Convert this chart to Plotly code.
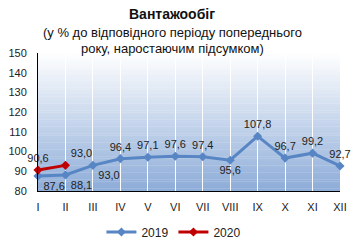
import plotly.graph_objects as go

months = ["I", "II", "III", "IV", "V", "VI", "VII", "VIII", "IX", "X", "XI", "XII"]
s2019 = [87.6, 88.1, 93.0, 96.4, 97.1, 97.6, 97.4, 95.6, 107.8, 96.7, 99.2, 92.7]
s2020 = [90.6, 93.0]
pos2019 = ["bottom right", "bottom right", "bottom right", "top center", "top center",
           "top center", "top center", "bottom center", "top center", "top center",
           "top center", "top center"]
pos2020 = ["top center", "top right"]
yticks = [80, 90, 100, 110, 120, 130, 140, 150]
title_lines = ["<b>Вантажообіг</b>",
               "(у % до відповідного періоду попереднього",
               "року, наростаючим підсумком)"]

def fmt(v):
    return f"{v:.1f}".replace(".", ",")

FONT = "Liberation Sans"
fig = go.Figure()
fig.add_trace(go.Scatter(
    x=months, y=s2019, name="2019", mode="lines+markers+text",
    line=dict(color="#5886c4", width=3),
    marker=dict(symbol="diamond", size=7, color="#5886c4"),
    text=[fmt(v) for v in s2019], textposition=pos2019,
    textfont=dict(size=11, color="#222222", family=FONT), cliponaxis=False))
fig.add_trace(go.Scatter(
    x=months[:len(s2020)], y=s2020, name="2020", mode="lines+markers+text",
    line=dict(color="#c00000", width=3),
    marker=dict(symbol="diamond", size=7, color="#c00000"),
    text=[fmt(v) for v in s2020], textposition=pos2020,
    textfont=dict(size=11, color="#222222", family=FONT), cliponaxis=False))

# gradient background of plot area
n = 60
top = (255, 255, 255)
bot = (141, 172, 216)
shapes = []
for i in range(n):
    t = (i + 0.5) / n
    c = tuple(int(round(top[k] + (bot[k] - top[k]) * t)) for k in range(3))
    shapes.append(dict(type="rect", xref="x domain", yref="y domain",
                       x0=0, x1=1, y0=1 - (i + 1) / n, y1=1 - i / n + 0.002,
                       fillcolor=f"rgb{c}", line=dict(width=0), layer="below"))
fig.update_layout(shapes=shapes)

anns = [
    dict(text=title_lines[0], x=0.444, y=1.283, font=dict(size=14, color="#111111")),
    dict(text=title_lines[1], x=0.444, y=1.152, font=dict(size=13, color="#111111")),
    dict(text=title_lines[2], x=0.444, y=1.036, font=dict(size=13, color="#111111")),
]
for a in anns:
    a.update(xref="paper", yref="paper", xanchor="center", yanchor="middle",
             showarrow=False)
fig.update_layout(annotations=anns)

fig.update_layout(
    width=355, height=240,
    margin=dict(l=38, r=15, t=53, b=49, autoexpand=False),
    paper_bgcolor="white", plot_bgcolor="white",
    font=dict(family=FONT, size=11, color="#222222"),
    xaxis=dict(range=[0, 11], showgrid=True, gridcolor="white", gridwidth=1,
               showline=True, linecolor="black", linewidth=1, ticks="",
               ticklabelstandoff=6, tickfont=dict(size=11), zeroline=False),
    yaxis=dict(range=[80, 150], tickvals=yticks, showgrid=False,
               showline=True, linecolor="black", linewidth=1, ticks="",
               ticklabelstandoff=8, tickfont=dict(size=11), zeroline=False),
    legend=dict(orientation="h", x=0.45, xanchor="center", y=-0.297, yanchor="middle",
                font=dict(size=12), itemwidth=30, tracegroupgap=0),
)
fig.write_html("out.html")
